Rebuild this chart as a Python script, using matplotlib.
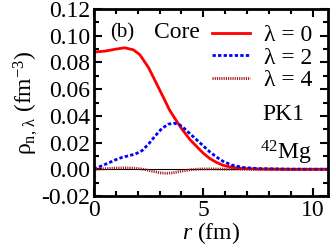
import matplotlib
matplotlib.use("Agg")
import matplotlib.pyplot as plt
import numpy as np
from matplotlib.ticker import MultipleLocator

plt.rcParams['font.family'] = ['Liberation Serif', 'DejaVu Serif']
plt.rcParams['mathtext.fontset'] = 'custom'
plt.rcParams['mathtext.rm'] = 'Liberation Serif'
plt.rcParams['mathtext.it'] = 'Liberation Serif:italic'

# densities
r0 = [0.0, 0.5, 1.0, 1.4, 1.8, 2.1, 2.5, 2.85, 3.2, 3.45, 3.8, 4.05, 4.4, 4.7, 5.0, 5.3, 5.6, 5.9, 6.3, 6.8, 7.5, 9.0, 10.7]
rho0 = [0.0878, 0.0885, 0.0900, 0.0910, 0.0895, 0.0858, 0.0760, 0.0645, 0.0530, 0.0445, 0.0355, 0.0295, 0.0220, 0.0170, 0.0120, 0.0080, 0.0052, 0.0030, 0.0015, 0.0006, 0.0002, 0.0, 0.0]

r2 = [0.0, 0.3, 0.7, 1.0, 1.3, 1.6, 1.9, 2.2, 2.5, 2.8, 3.1, 3.4, 3.65, 3.9, 4.1, 4.4, 4.7, 5.0, 5.3, 5.6, 5.9, 6.3, 6.8, 7.5, 9.0, 10.7]
rho2 = [0.0, 0.0022, 0.0050, 0.0072, 0.0090, 0.0102, 0.0115, 0.0140, 0.0190, 0.0250, 0.0305, 0.0338, 0.0345, 0.0335, 0.0310, 0.0265, 0.0220, 0.0175, 0.0130, 0.0092, 0.0060, 0.0032, 0.0014, 0.0005, 0.0001, 0.0]

r4 = [0.0, 0.5, 1.0, 1.4, 1.8, 2.2, 2.6, 3.0, 3.3, 3.6, 4.0, 4.4, 4.8, 5.3, 6.0, 7.0, 10.7]
rho4 = [0.0, 0.0004, 0.0009, 0.0011, 0.0009, 0.0002, -0.0012, -0.0026, -0.0030, -0.0027, -0.0014, -0.0004, 0.0002, 0.0003, 0.0001, 0.0, 0.0]

fig = plt.figure(figsize=(3.32, 2.45), dpi=100)
ax = fig.add_axes([0.283, 0.2, 0.705, 0.763])

ax.axhline(0, color='black', lw=0.8)
ax.plot(r0, rho0, color='red', lw=2, label='λ = 0')
ax.plot(r2, rho2, color='blue', lw=2, ls=(0, (1.2, 0.8)), label='λ = 2')
ax.plot(r4, rho4, color='#a01010', lw=2, ls=(0, (0.4, 0.4)), label='λ = 4')

ax.set_xlim(0, 10.7)
ax.set_ylim(-0.02, 0.12)
ax.xaxis.set_major_locator(MultipleLocator(5))
ax.xaxis.set_minor_locator(MultipleLocator(1))
ax.yaxis.set_major_locator(MultipleLocator(0.02))
ax.yaxis.set_minor_locator(MultipleLocator(0.01))
ax.yaxis.set_major_formatter(matplotlib.ticker.FormatStrFormatter('%.2f'))
ax.tick_params(which='both', direction='in', top=True, right=True, labelsize=17, width=1.5)
ax.tick_params(which='major', length=6, pad=3)
ax.tick_params(which='minor', length=3.5)
for s in ax.spines.values():
    s.set_linewidth(2)

ax.set_xlabel(r'$r$ (fm)', fontsize=17, labelpad=-1)
ax.set_ylabel(r'ρ$_{\mathrm{n,\,λ}}$ (fm$^{-3}$)', fontsize=17, labelpad=1)

ax.text(0.07, 0.875, '(b)', transform=ax.transAxes, fontsize=15, va='center')
ax.text(0.255, 0.875, 'Core', transform=ax.transAxes, fontsize=17, va='center')
ax.text(0.81, 0.435, 'PK1', transform=ax.transAxes, fontsize=17, va='center', ha='center')
ax.text(0.82, 0.23, r'$^{42}$Mg', transform=ax.transAxes, fontsize=17, va='center', ha='center')

ax.legend(loc='upper right', frameon=False, fontsize=17, handlelength=1.6,
          handletextpad=0.6, labelspacing=0.05, borderaxespad=0.1, borderpad=0.55)

fig.savefig('out.png', dpi=100)
